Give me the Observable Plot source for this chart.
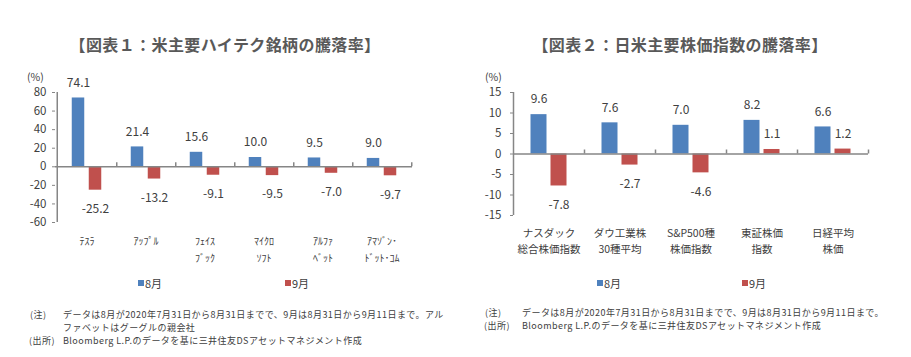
<!DOCTYPE html>
<html><head><meta charset="utf-8">
<script src="https://cdn.jsdelivr.net/npm/d3@7"></script>
<script src="https://cdn.jsdelivr.net/npm/@observablehq/plot@0.6"></script>
<style>
body{margin:0;background:#fff;}
#wrap{position:relative;width:911px;height:357px;overflow:hidden;font-family:"Noto Sans CJK JP",sans-serif;color:#404040;background:#fff;}
.title{position:absolute;top:34px;height:20px;line-height:20px;font-size:16px;font-weight:bold;color:#595959;white-space:nowrap;transform:translateX(-50%);letter-spacing:0.4px;}
.abs{position:absolute;white-space:nowrap;}
.unit{font-size:10.5px;line-height:14px;}
.leg{font-size:11px;line-height:14px;}
.sw{position:absolute;width:6px;height:6px;}
.note{font-size:9px;line-height:13px;letter-spacing:0.45px;}
svg{position:absolute;}
</style></head><body><div id="wrap"></div>
<script>
// ---- data ----
const techNames = ["ﾃｽﾗ", "ｱｯﾌﾟﾙ", "ﾌｪｲｽ\nﾌﾞｯｸ", "ﾏｲｸﾛ\nｿﾌﾄ", "ｱﾙﾌｧ\nﾍﾞｯﾄ", "ｱﾏｿﾞﾝ･\nﾄﾞｯﾄ･ｺﾑ"];
const techAug = [74.1, 21.4, 15.6, 10.0, 9.5, 9.0];
const techSep = [-25.2, -13.2, -9.1, -9.5, -7.0, -9.7];
const techTicks = [-60, -40, -20, 0, 20, 40, 60, 80];

const idxNames = ["ナスダック\n総合株価指数", "ダウ工業株\n30種平均", "S&P500種\n株価指数", "東証株価\n指数", "日経平均\n株価"];
const idxAug = [9.6, 7.6, 7.0, 8.2, 6.6];
const idxSep = [-7.8, -2.7, -4.6, 1.1, 1.2];
const idxTicks = [-15, -10, -5, 0, 5, 10, 15];

const seriesNames = ["8月", "9月"];
const title1 = "【図表１：米主要ハイテク銘柄の騰落率】";
const title2 = "【図表２：日米主要株価指数の騰落率】";
const unitLabel = "(%)";
const note1a = "データは8月が2020年7月31日から8月31日までで、9月は8月31日から9月11日まで。アル";
const note1b = "ファベットはグーグルの親会社";
const note2a = "データは8月が2020年7月31日から8月31日までで、9月は8月31日から9月11日まで。";
const srcText = "Bloomberg L.P.のデータを基に三井住友DSアセットマネジメント作成";

// ---- style ----
const FONT = '"Noto Sans CJK JP", sans-serif';
const BLUE = "#4F81BD", RED = "#C0504D", AX = "#868686", TXT = "#404040";

function chart({names, aug, sep, ticks, width, height, ml, mr, mt, mb, barW, gap, tickPad, xPad, xFont, lh}) {
  const rows = names.map((n, i) => ({name: n, aug: aug[i], sep: sep[i]}));
  const bw = (width - ml - mr) / names.length;
  const off = gap / 2 + barW / 2;
  const lo = ticks[0], hi = ticks[ticks.length - 1];
  const tickLen = 4 * (hi - lo) / (height - mt - mb);
  const labels = (key, dx) => [
    Plot.text(rows, {filter: d => d[key] >= 0, x: "name", y: key, text: d => d[key].toFixed(1), dx, dy: -15, fontSize: 12, fill: TXT}),
    Plot.text(rows, {filter: d => d[key] < 0, x: "name", y: key, text: d => d[key].toFixed(1), dx, dy: 19, fontSize: 12, fill: TXT})
  ];
  return Plot.plot({
    width, height, marginLeft: ml, marginRight: mr, marginTop: mt, marginBottom: mb,
    style: {fontFamily: FONT, fontSize: "11px", color: TXT, background: "transparent", overflow: "visible"},
    x: {domain: names, padding: 0, axis: null, label: null},
    y: {domain: [lo, hi], axis: null, label: null},
    marks: [
      Plot.barY(rows, {x: "name", y1: 0, y2: "aug", fill: BLUE, insetLeft: bw / 2 - gap / 2 - barW, insetRight: bw / 2 + gap / 2}),
      Plot.barY(rows, {x: "name", y1: 0, y2: "sep", fill: RED, insetLeft: bw / 2 + gap / 2, insetRight: bw / 2 - gap / 2 - barW}),
      Plot.ruleY([0], {stroke: AX, strokeWidth: 1.5}),
      Plot.ruleX(names, {dx: bw / 2, y1: 0, y2: tickLen, stroke: AX, strokeWidth: 1.5}),
      Plot.ruleX([names[0]], {dx: -bw / 2, y1: lo, y2: hi, stroke: AX, strokeWidth: 1.5}),
      Plot.axisY({ticks, tickSize: 3, tickPadding: tickPad, tickFormat: d => String(d), stroke: AX, fill: TXT, fontSize: 11.5, label: null}),
      Plot.axisX({tickSize: 0, tickPadding: xPad, fontSize: xFont, lineHeight: lh, fill: TXT, label: null}),
      ...labels("aug", -off),
      ...labels("sep", off)
    ]
  });
}

const wrap = document.getElementById("wrap");
function add(html) { const d = document.createElement("div"); d.innerHTML = html; const el = d.firstElementChild; wrap.appendChild(el); return el; }

// left chart
const c1 = chart({names: techNames, aug: techAug, sep: techSep, ticks: techTicks,
  width: 455, height: 222, ml: 55, mr: 43, mt: 32, mb: 60, barW: 13, gap: 4, tickPad: 6, xPad: 10, xFont: 10, lh: 1.75});
c1.style.left = "0px"; c1.style.top = "60px"; wrap.appendChild(c1);

// right chart
const c2 = chart({names: idxNames, aug: idxAug, sep: idxSep, ticks: idxTicks,
  width: 456, height: 210, ml: 58, mr: 43, mt: 32, mb: 55, barW: 16, gap: 4, tickPad: 9, xPad: 10, xFont: 10.5, lh: 1.55});
c2.style.left = "455px"; c2.style.top = "60px"; wrap.appendChild(c2);

// titles
add(`<div class="title" style="left:225px">${title1}</div>`);
add(`<div class="title" style="left:680px">${title2}</div>`);
// units
add(`<div class="abs unit" style="left:27px;top:70px">${unitLabel}</div>`);
add(`<div class="abs unit" style="left:485px;top:70px">${unitLabel}</div>`);
// legends
const legs = [[138, BLUE, 0], [285, RED, 1], [597, BLUE, 0], [742, RED, 1]];
for (const [x, c, i] of legs) {
  add(`<div class="sw" style="left:${x}px;top:280px;background:${c}"></div>`);
  add(`<div class="abs leg" style="left:${x + 7}px;top:276px">${seriesNames[i]}</div>`);
}
// notes
add(`<div class="abs note" style="left:30px;top:308px">(注)</div>`);
add(`<div class="abs note" style="left:63px;top:308px">${note1a}</div>`);
add(`<div class="abs note" style="left:63px;top:321px">${note1b}</div>`);
add(`<div class="abs note" style="left:29px;top:334px">(出所)</div>`);
add(`<div class="abs note" style="left:63px;top:334px">${srcText}</div>`);
add(`<div class="abs note" style="left:485px;top:306px">(注)</div>`);
add(`<div class="abs note" style="left:522px;top:306px">${note2a}</div>`);
add(`<div class="abs note" style="left:484px;top:319px">(出所)</div>`);
add(`<div class="abs note" style="left:522px;top:319px">${srcText}</div>`);
</script>
</body></html>
